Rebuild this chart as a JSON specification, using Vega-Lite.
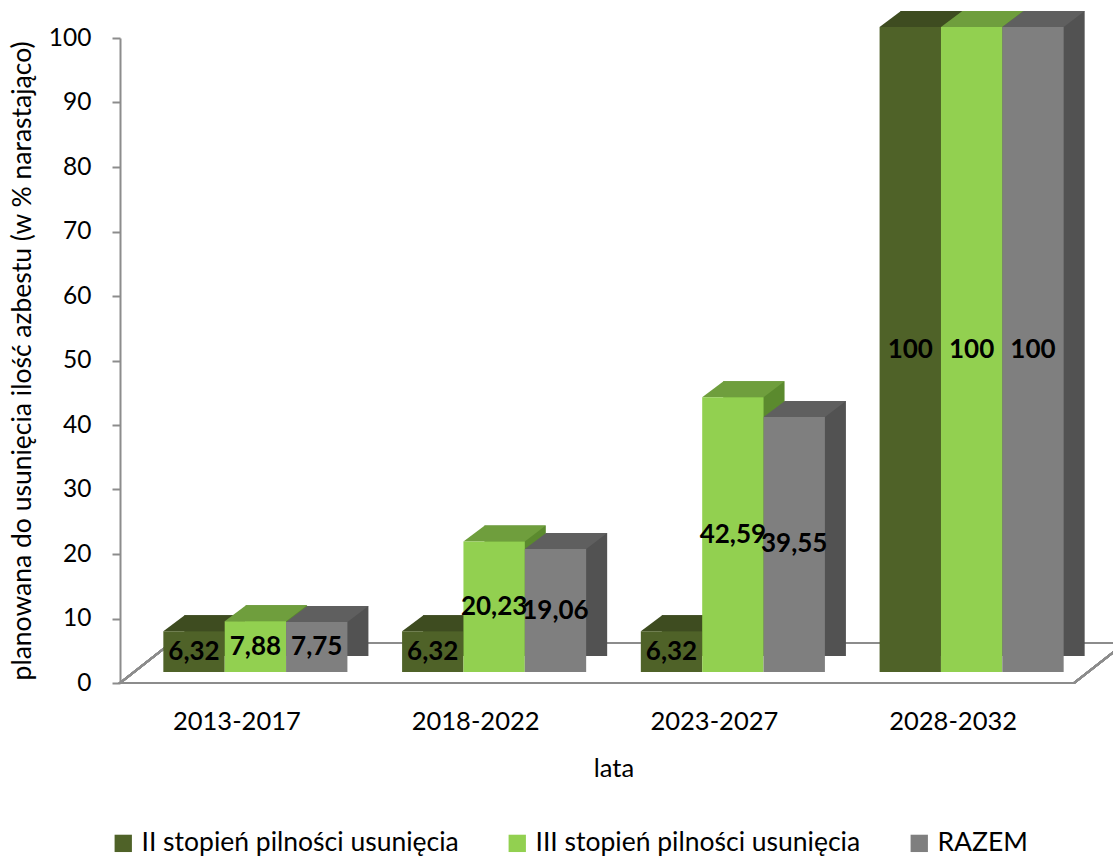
{
  "$schema": "https://vega.github.io/schema/vega-lite/v6.json",
  "width": 955,
  "height": 645,
  "autosize": {"type": "none"},
  "padding": {"left": 136, "top": 38, "right": 22, "bottom": 174},
  "background": "white",
  "config": {
    "view": {"stroke": null},
    "font": "Lato",
    "locale": {"number": {"decimal": ",", "thousands": " ", "grouping": [3], "currency": ["", " zł"]}}
  },
  "data": {
    "values": [
      {"lata": "2013-2017", "seria": "II stopień pilności usunięcia", "wartosc": 6.32},
      {"lata": "2013-2017", "seria": "III stopień pilności usunięcia", "wartosc": 7.88},
      {"lata": "2013-2017", "seria": "RAZEM", "wartosc": 7.75},
      {"lata": "2018-2022", "seria": "II stopień pilności usunięcia", "wartosc": 6.32},
      {"lata": "2018-2022", "seria": "III stopień pilności usunięcia", "wartosc": 20.23},
      {"lata": "2018-2022", "seria": "RAZEM", "wartosc": 19.06},
      {"lata": "2023-2027", "seria": "II stopień pilności usunięcia", "wartosc": 6.32},
      {"lata": "2023-2027", "seria": "III stopień pilności usunięcia", "wartosc": 42.59},
      {"lata": "2023-2027", "seria": "RAZEM", "wartosc": 39.55},
      {"lata": "2028-2032", "seria": "II stopień pilności usunięcia", "wartosc": 100},
      {"lata": "2028-2032", "seria": "III stopień pilności usunięcia", "wartosc": 100},
      {"lata": "2028-2032", "seria": "RAZEM", "wartosc": 100}
    ]
  },
  "encoding": {
    "x": {
      "field": "lata", "type": "nominal", "sort": null,
      "scale": {"paddingInner": 0.229, "paddingOuter": 0.1145},
      "axis": {
        "title": "lata", "labelAngle": 0, "labelFont": "Lato", "labelFontSize": 25.5, "labelColor": "#000000",
        "ticks": false, "domain": false, "labelPadding": 26, "labelOffset": -18.5,
        "titleFont": "Lato", "titleFontSize": 25.5, "titleFontWeight": "normal", "titleColor": "#000000", "titlePadding": 22
      }
    }
  },
  "layer": [
    {
      "mark": {"type": "point", "shape": "M-43.3,0 L7.7,-40 L961.7,-40 L910.7,0 Z", "size": 4, "filled": false, "stroke": "#8c8c8c", "strokeWidth": 2, "opacity": 1},
      "encoding": {
        "x": {"datum": "2013-2017", "bandPosition": 0},
        "y": {"datum": 0, "type": "quantitative"}
      }
    },
    {
      "transform": [{"filter": "datum.seria === 'II stopień pilności usunięcia'"}],
      "mark": {"type": "bar", "width": 61.36, "xOffset": -40.36, "yOffset": -27, "y2Offset": -11, "fill": "#34411b"},
      "encoding": {"y": {"field": "wartosc", "type": "quantitative"}}
    },
    {
      "transform": [{"filter": "datum.seria === 'III stopień pilności usunięcia'"}],
      "mark": {"type": "bar", "width": 61.36, "xOffset": 21, "yOffset": -27, "y2Offset": -11, "fill": "#5b8a2e"},
      "encoding": {"y": {"field": "wartosc", "type": "quantitative"}}
    },
    {
      "transform": [{"filter": "datum.seria === 'RAZEM'"}],
      "mark": {"type": "bar", "width": 61.36, "xOffset": 82.36, "yOffset": -27, "y2Offset": -11, "fill": "#525252"},
      "encoding": {"y": {"field": "wartosc", "type": "quantitative"}}
    },
    {
      "mark": {"type": "point", "shape": "M30.68,0 L51.68,-16 L51.68,1 L30.68,1 Z", "size": 4, "filled": true, "fill": "white", "strokeWidth": 0, "opacity": 1, "yOffset": -11},
      "encoding": {
        "xOffset": {"field": "seria", "type": "nominal", "sort": null, "scale": {"paddingInner": 0, "paddingOuter": 0}},
        "y": {"datum": 0, "type": "quantitative"}
      }
    },
    {
      "mark": {"type": "point", "shape": "M-30.68,0 L30.68,0 L51.68,-16 L-9.32,-16 Z", "size": 4, "filled": true, "strokeWidth": 0, "opacity": 1, "yOffset": -11},
      "encoding": {
        "xOffset": {"field": "seria", "type": "nominal", "sort": null},
        "y": {"field": "wartosc", "type": "quantitative"},
        "color": {"field": "seria", "type": "nominal", "sort": null, "legend": null,
          "scale": {"range": ["#3e4c20", "#6f9e3d", "#5f5f5f"]}}
      }
    },
    {
      "mark": {"type": "bar", "yOffset": -11, "y2Offset": -11},
      "encoding": {
        "xOffset": {"field": "seria", "type": "nominal", "sort": null},
        "y": {
          "field": "wartosc", "type": "quantitative",
          "scale": {"domain": [0, 100], "nice": false},
          "axis": {
            "title": "planowana do usunięcia ilość azbestu (w % narastająco)",
            "values": [0, 10, 20, 30, 40, 50, 60, 70, 80, 90, 100],
            "offset": 16,
            "grid": false, "labelFont": "Lato", "labelFontSize": 24.5, "labelColor": "#000000",
            "tickColor": "#8c8c8c", "tickSize": 8, "tickWidth": 2, "labelPadding": 21,
            "domainColor": "#8c8c8c", "domainWidth": 2,
            "titleFont": "Lato", "titleFontSize": 26.5, "titleFontWeight": "normal", "titleColor": "#000000", "titlePadding": 12
          }
        },
        "color": {
          "field": "seria", "type": "nominal", "sort": null,
          "scale": {"range": ["#4f6228", "#92d050", "#7f7f7f"]},
          "legend": {
            "title": null, "orient": "none", "direction": "horizontal", "legendX": -26, "legendY": 792,
            "symbolType": "square", "symbolSize": 300, "symbolStrokeWidth": 0, "symbolOpacity": 1,
            "labelFont": "Lato", "labelFontSize": 26.5, "labelColor": "#000000", "labelLimit": 0,
            "labelOffset": 5, "columnPadding": 45, "padding": 0
          }
        }
      }
    },
    {
      "transform": [{"calculate": "datum.wartosc / 2", "as": "srodek"}],
      "mark": {"type": "text", "font": "Lato", "fontSize": 26, "fontWeight": "bold", "color": "#000000", "yOffset": -11, "align": "center", "baseline": "middle"},
      "encoding": {
        "xOffset": {"field": "seria", "type": "nominal", "sort": null},
        "y": {"field": "srodek", "type": "quantitative"},
        "text": {"field": "wartosc", "type": "quantitative", "format": "~g"}
      }
    }
  ],
  "resolve": {"scale": {"color": "independent"}}
}
